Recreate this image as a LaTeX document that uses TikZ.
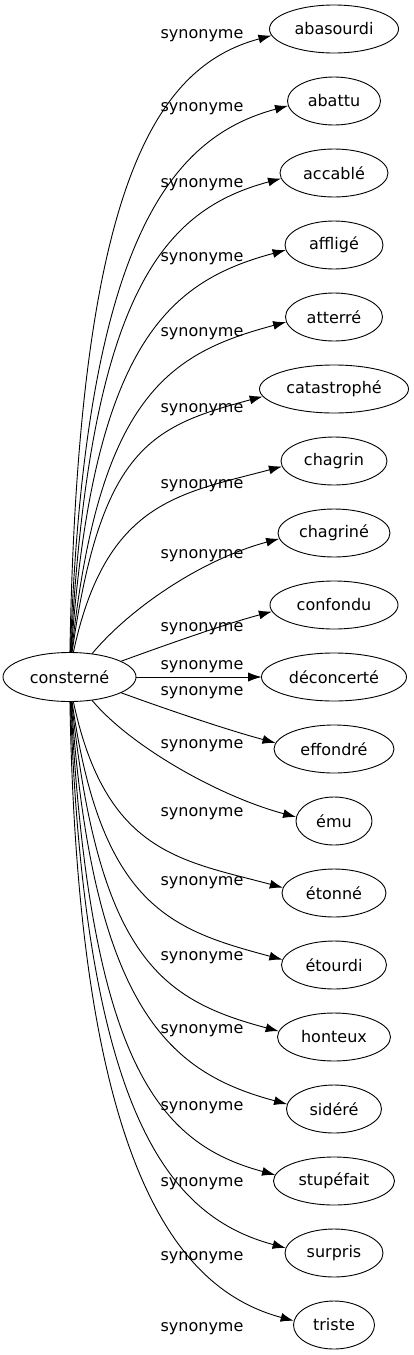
\documentclass[tikz,border=0pt]{standalone}
\usepackage{fontspec}
\setmainfont{DejaVu Sans}
\usetikzlibrary{arrows.meta,shapes,positioning}

\begin{document}
\begin{tikzpicture}[x=1pt, y=1pt, node distance=72pt]
\tikzstyle{main}=[ellipse, draw=black, line width=0.9pt, minimum height=48pt, inner sep=0pt, font=\fontsize{16pt}{19pt}\selectfont]
\tikzstyle{lbl}=[inner sep=0pt, font=\fontsize{16pt}{19pt}\selectfont]
\tikzstyle{connect}=[-{Latex[length=13pt, width=9pt]}, line width=0.9pt]

\useasboundingbox (0,0) rectangle (414,-1355);

  \node[main, minimum width=133pt, minimum height=49pt] (consterne) at (69.5,-677) {consterné};

  \node[main, minimum width=129pt] (abasourdi)   [right of =consterne, xshift=192.5, yshift=648] {abasourdi};
  \node[main, minimum width=93pt]  (abattu)      [below of =abasourdi]   {abattu};
  \node[main, minimum width=108pt] (accable)     [below of =abattu]      {accablé};
  \node[main, minimum width=98pt]  (afflige)     [below of =accable]     {affligé};
  \node[main, minimum width=97pt]  (atterre)     [below of =afflige]     {atterré};
  \node[main, minimum width=149pt] (catastrophe) [below of =atterre]     {catastrophé};
  \node[main, minimum width=106pt] (chagrin)     [below of =catastrophe] {chagrin};
  \node[main, minimum width=112pt] (chagrine)    [below of =chagrin]     {chagriné};
  \node[main, minimum width=128pt] (confondu)    [below of =chagrine]    {confondu};
  \node[main, minimum width=145pt] (deconcerte)  [below of =confondu]    {déconcerté};
  \node[main, minimum width=120pt] (effondre)    [below of =deconcerte]  {effondré};
  \node[main, minimum width=76pt]  (emu)         [below of =effondre]    {ému};
  \node[main, minimum width=104pt] (etonne)      [below of =emu]         {étonné};
  \node[main, minimum width=105pt] (etourdi)     [below of =etonne]      {étourdi};
  \node[main, minimum width=113pt] (honteux)     [below of =etourdi]     {honteux};
  \node[main, minimum width=95pt]  (sidere)      [below of =honteux]     {sidéré};
  \node[main, minimum width=121pt] (stupefait)   [below of =sidere]      {stupéfait};
  \node[main, minimum width=98pt]  (surpris)     [below of =stupefait]   {surpris};
  \node[main, minimum width=81pt]  (triste)      [below of =surpris]     {triste};

  % edge labels
  \node[lbl] (sabasourdi)   at (202,-36)   {synonyme};
  \node[lbl] (sabattu)      at (202,-109)  {synonyme};
  \node[lbl] (saccable)     at (202,-185)  {synonyme};
  \node[lbl] (safflige)     at (202,-259)  {synonyme};
  \node[lbl] (satterre)     at (202,-334)  {synonyme};
  \node[lbl] (scatastrophe) at (202,-410)  {synonyme};
  \node[lbl] (schagrin)     at (202,-486)  {synonyme};
  \node[lbl] (schagrine)    at (202,-556)  {synonyme};
  \node[lbl] (sconfondu)    at (202,-629)  {synonyme};
  \node[lbl] (sdeconcerte)  at (202,-667)  {synonyme};
  \node[lbl] (sdeconcerteb) at (202,-693)  {synonyme};
  \node[lbl] (seffondre)    at (202,-746)  {synonyme};
  \node[lbl] (semu)         at (202,-814)  {synonyme};
  \node[lbl] (setonne)      at (202,-883)  {synonyme};
  \node[lbl] (setourdi)     at (202,-958)  {synonyme};
  \node[lbl] (shonteux)     at (202,-1031) {synonyme};
  \node[lbl] (ssidere)      at (202,-1108) {synonyme};
  \node[lbl] (sstupefait)   at (202,-1184) {synonyme};
  \node[lbl] (ssurpris)     at (202,-1258) {synonyme};
  \node[lbl] (striste)      at (202,-1329) {synonyme};

  \path (consterne.89) edge [connect, out=89, in=195, out distance=467pt, in distance=120pt] (abasourdi.186);
  \path (consterne.88) edge [connect, out=88, in=195, out distance=415pt, in distance=120pt] (abattu.186);
  \path (consterne.87) edge [connect, out=87, in=195, out distance=363pt, in distance=120pt] (accable.186);
  \path (consterne.86) edge [connect, out=86, in=195, out distance=311pt, in distance=120pt] (afflige.186);
  \path (consterne.85) edge [connect, out=84, in=195, out distance=259pt, in distance=120pt] (atterre.186);
  \path (consterne.84) edge [connect, out=82, in=195, out distance=207pt, in distance=115pt] (catastrophe.186);
  \path (consterne.81) edge [connect, out=78, in=195, out distance=155pt, in distance=105pt] (chagrin.186);
  \path (consterne.46) edge [connect, out=50, in=195, out distance=60pt, in distance=80pt] (chagrine.186);
  \path (consterne.17) edge [connect, out=20, in=195, out distance=50pt, in distance=50pt] (confondu.186);

  \path (consterne) edge [connect] (deconcerte);
  \path (consterne) edge [connect] (deconcerte);

  \path (consterne.-17) edge [connect, out=-20, in=165, out distance=50pt, in distance=50pt] (effondre.174);
  \path (consterne.-46) edge [connect, out=-50, in=165, out distance=60pt, in distance=80pt] (emu.174);
  \path (consterne.-81) edge [connect, out=-78, in=165, out distance=155pt, in distance=105pt] (etonne.174);
  \path (consterne.-84) edge [connect, out=-82, in=165, out distance=207pt, in distance=115pt] (etourdi.174);
  \path (consterne.-85) edge [connect, out=-84, in=165, out distance=259pt, in distance=120pt] (honteux.174);
  \path (consterne.-86) edge [connect, out=-86, in=165, out distance=311pt, in distance=120pt] (sidere.174);
  \path (consterne.-87) edge [connect, out=-87, in=165, out distance=363pt, in distance=120pt] (stupefait.174);
  \path (consterne.-88) edge [connect, out=-88, in=165, out distance=415pt, in distance=120pt] (surpris.174);
  \path (consterne.-89) edge [connect, out=-89, in=165, out distance=467pt, in distance=120pt] (triste.174);

\end{tikzpicture}
\end{document}
